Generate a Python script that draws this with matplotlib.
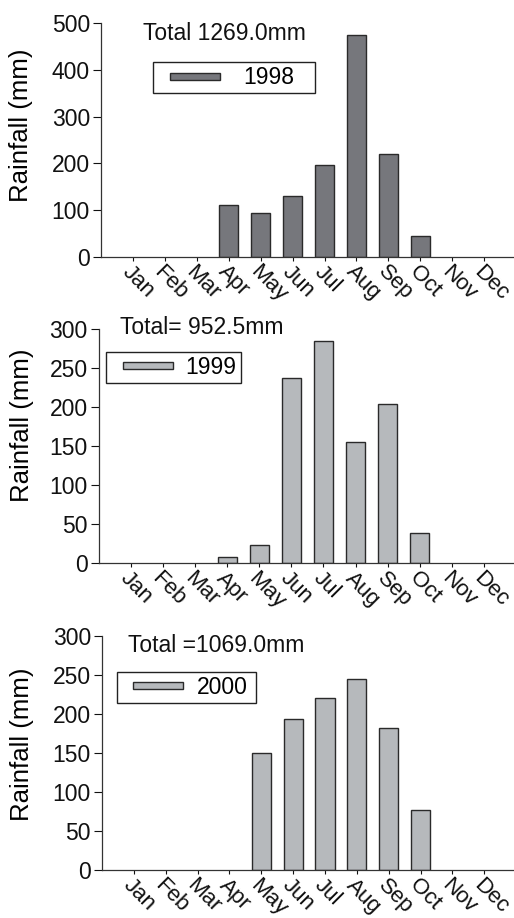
import matplotlib
matplotlib.use("Agg")
import matplotlib.pyplot as plt
from matplotlib.patches import Rectangle
from matplotlib.container import BarContainer
from matplotlib.legend_handler import HandlerPatch

plt.rcParams["font.family"] = ["Liberation Sans", "DejaVu Sans"]

months = ["Jan", "Feb", "Mar", "Apr", "May", "Jun",
          "Jul", "Aug", "Sep", "Oct", "Nov", "Dec"]

rain_1998 = [0, 0, 0, 110, 93, 129, 197, 474, 221, 45, 0, 0]
rain_1999 = [0, 0, 0, 8, 24, 238, 285, 155, 204, 38.5, 0, 0]
rain_2000 = [0, 0, 0, 0, 150, 194, 221, 245, 182, 77, 0, 0]

years = ["1998", "1999", "2000"]
totals = ["Total 1269.0mm", "Total= 952.5mm", "Total =1069.0mm"]
y_max = [500, 300, 300]
y_step = [100, 50, 50]

DARK = "#76777c"
LIGHT = "#b6b9bc"
EDGE = "#2a2a2a"


def legend_swatch(xoff, w, h):
    # small bar key, inset from the left edge of the handle area
    def make(legend, orig_handle, xdescent, ydescent, width, height, fontsize):
        return Rectangle((xoff - xdescent, -ydescent + (height - h) / 2.0), w, h)
    return make


def copy_tallest_bar(legend_handle, orig_handle):
    # first bars are empty (no outline), so take style from the tallest one
    bar = max(orig_handle.patches, key=lambda p: p.get_height())
    legend_handle.update_from(bar)


fig = plt.figure(figsize=(5.14, 9.18), dpi=100)

# axes boxes (left, bottom, width, height) in figure fraction
boxes = [
    (0.1965, 0.7204, 0.8015, 0.2542),
    (0.1920, 0.3864, 0.8060, 0.2549),
    (0.1984, 0.0520, 0.7996, 0.2549),
]
colors = [DARK, LIGHT, LIGHT]
series = [rain_1998, rain_1999, rain_2000]
total_pos = [(0.102, 0.958), (0.051, 1.006), (0.063, 0.962)]
# legend box: x0, y_top, width (axes fraction)
leg_box = [(0.126, 0.834, 0.393), (0.0176, 0.904, 0.326), (0.036, 0.848, 0.339)]
leg_gap = [1.0, 0.55, 0.55]
ylabel_pos = [(-0.165, 0.564), (-0.156, 0.591), (-0.165, 0.537)]

for i in range(3):
    ax = fig.add_axes(boxes[i])
    x = range(len(months))
    # empty months get no outline, as in the original
    lw = [1.0 if v > 0 else 0 for v in series[i]]
    ax.bar(x, series[i], width=0.6, color=colors[i], edgecolor=EDGE,
           linewidth=lw, label=years[i])

    ax.set_xlim(-1.0, 11.9)
    ax.set_ylim(0, y_max[i])
    ax.set_yticks(range(0, y_max[i] + 1, y_step[i]))
    ax.set_xticks(list(x))
    ax.set_xticklabels(months, rotation=-45, ha="left", va="top",
                       rotation_mode="anchor", fontsize=16)

    for side in ["top", "right"]:
        ax.spines[side].set_visible(False)
    for side in ["left", "bottom"]:
        ax.spines[side].set_linewidth(0.9)
        ax.spines[side].set_color("#333333")

    ax.tick_params(axis="y", direction="out", length=5.5, width=0.8,
                   pad=2.5, labelsize=16.5, colors="#111111")
    ax.tick_params(axis="x", direction="out", length=3, width=0.8,
                   pad=0.5, colors="#111111")

    ax.set_ylabel("Rainfall (mm)", fontsize=18.5)
    ax.yaxis.set_label_coords(*ylabel_pos[i])

    ax.text(total_pos[i][0], total_pos[i][1], totals[i], transform=ax.transAxes,
            ha="left", va="center", fontsize=16.5, color="#111111")

    lx, ly, lw_ = leg_box[i]
    leg = ax.legend(loc="upper left", bbox_to_anchor=(lx, ly - 0.2, lw_, 0.2),
                    mode="expand", borderaxespad=0, fontsize=16.5,
                    fancybox=False, framealpha=1, borderpad=0.18,
                    handlelength=2.75, handletextpad=leg_gap[i],
                    handler_map={BarContainer: HandlerPatch(
                        patch_func=legend_swatch(9.0, 36.0, 5.0),
                        update_func=copy_tallest_bar)})
    leg.get_frame().set_edgecolor("#222222")
    leg.get_frame().set_linewidth(1.0)

fig.savefig("out.png", dpi=100)
